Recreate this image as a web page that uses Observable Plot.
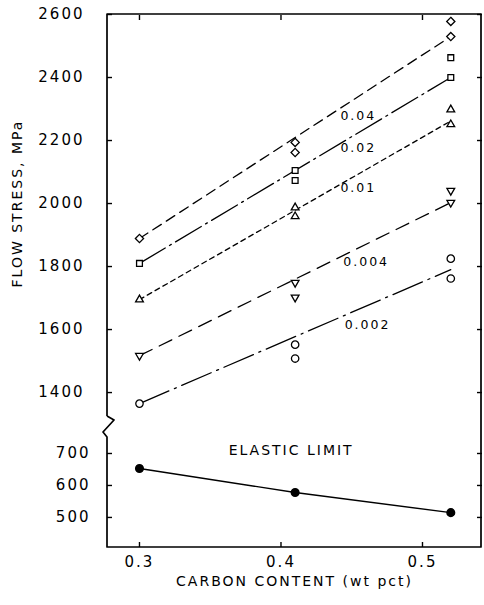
<!DOCTYPE html>
<html><head><meta charset="utf-8">
<script src="https://cdn.jsdelivr.net/npm/d3@7"></script>
<script src="https://cdn.jsdelivr.net/npm/@observablehq/plot@0.6"></script>
<style>
html,body{margin:0;padding:0;background:#fff;}
#chart svg text{letter-spacing:2px;}
#chart g[aria-label="strain labels"] text{letter-spacing:0.6px;}
#chart g[aria-label="axis title"] text{letter-spacing:2.5px;}
#chart g[aria-label="elastic title"] text{letter-spacing:2px;}
</style></head><body><div id="chart"></div>
<script>
// ---- data ----
const carbon = [0.3, 0.41, 0.52];
const strains = ["0.04", "0.02", "0.01", "0.004", "0.002"];
// flow stress (MPa) measured at each carbon content (repeat tests per entry)
const stress_004 = [[1889], [2194, 2162], [2578, 2530]];
const stress_002 = [[1810], [2105, 2073], [2463, 2400]];
const stress_001 = [[1695], [1987, 1959], [2298, 2251]];
const stress_0004 = [[1517], [1749, 1702], [2041, 2003]];
const stress_0002 = [[1365], [1552, 1508], [1825, 1762]];
// fitted lines: stress at 0.3 and 0.52 wt pct C
const fitStart = [1889, 1810, 1695, 1517, 1365];
const fitEnd = [2530, 2400, 2262, 2003, 1790];
// elastic limit (MPa)
const elastic = [653, 578, 515];
// ticks
const yTicksUpper = [1400, 1600, 1800, 2000, 2200, 2400, 2600];
const yTicksLower = [500, 600, 700];
const xTicks = [0.3, 0.4, 0.5];
// annotation anchors (data units)
const labelC = [0.442, 0.442, 0.442, 0.444, 0.445];
const labelS = [2279, 2175, 2048, 1813, 1616];
const elasticLabel = {text: "ELASTIC LIMIT", c: 0.363, s: 709};
const yTitle = "FLOW STRESS, MPa";
const xTitle = "CARBON CONTENT (wt pct)";

// ---- build tables ----
const series = [stress_004, stress_002, stress_001, stress_0004, stress_0002];
const points = [];
series.forEach((arr, i) => arr.forEach((vals, j) => vals.forEach(v =>
  points.push({strain: strains[i], c: carbon[j], s: v}))));
const fits = strains.map((st, i) => [
  {strain: st, c: carbon[0], s: fitStart[i]},
  {strain: st, c: carbon[carbon.length - 1], s: fitEnd[i]}
]);
const elasticPts = carbon.map((c, j) => ({c, s: elastic[j]}));
const labels = strains.map((st, i) => ({text: st, c: labelC[i], s: labelS[i]}));

const dashes = ["10,6", "30,5,2,5", "5,4", "14,8", "32,6,2,6"];
const breakUpper = 1324, breakLower = 750;
const xDomain = [0.2774, 0.5417];

function frameWithBreak(index, scales, values, dim) {
  const {width, height, marginLeft, marginRight, marginTop, marginBottom} = dim;
  const x0 = marginLeft, x1 = width - marginRight, y0 = marginTop, y1 = height - marginBottom;
  const yb1 = scales.y(breakUpper), yb2 = scales.y(breakLower);
  const d = `M${x0},${yb1}L${x0},${y0}L${x1},${y0}L${x1},${y1}L${x0},${y1}L${x0},${yb2}` +
            `L${x0 - 4},${yb2 - 5}L${x0 + 7},${yb1 + 4}L${x0},${yb1}`;
  return d3.create("svg:path").attr("d", d).attr("fill", "none")
    .attr("stroke", "black").attr("stroke-width", 1.7).attr("stroke-linejoin", "round").node();
}

const blank = () => "";
const marks = [
  frameWithBreak,
  // inward ticks
  Plot.axisY([...yTicksLower, ...yTicksUpper], {anchor: "left", tickSize: 5, dx: 5, tickFormat: blank, label: null, strokeWidth: 1.4}),
  Plot.axisY([...yTicksLower, ...yTicksUpper], {anchor: "right", tickSize: 5, dx: -5, tickFormat: blank, label: null, strokeWidth: 1.4}),
  Plot.axisX(xTicks, {anchor: "top", tickSize: 5, dy: 5, tickFormat: blank, label: null, strokeWidth: 1.4}),
  Plot.axisX(xTicks, {anchor: "bottom", tickSize: 5, dy: -5, tickFormat: blank, label: null, strokeWidth: 1.4}),
  // tick labels
  Plot.axisY(yTicksUpper, {anchor: "left", tickSize: 0, tickPadding: 23, label: null, fontSize: 15, tickFormat: d => String(d)}),
  Plot.axisY(yTicksLower, {anchor: "left", tickSize: 0, tickPadding: 17, label: null, fontSize: 15, tickFormat: d => String(d)}),
  Plot.axisX(xTicks, {anchor: "bottom", tickSize: 0, tickPadding: 9, label: null, fontSize: 15, tickFormat: d => d.toFixed(1)}),
  // fitted lines
  ...fits.map((f, i) => Plot.line(f, {x: "c", y: "s", stroke: "black", strokeWidth: 1.3, strokeDasharray: dashes[i]})),
  // elastic limit
  Plot.line(elasticPts, {x: "c", y: "s", stroke: "black", strokeWidth: 1.4}),
  Plot.dot(elasticPts, {x: "c", y: "s", r: 3.8, fill: "black", stroke: "black"}),
  // measured points
  Plot.dot(points, {x: "c", y: "s", symbol: "strain", r: 3.7, fill: "white", stroke: "black", strokeWidth: 1.3,
    rotate: d => d.strain === "0.004" ? 180 : 0}),
  // annotations
  Plot.text(labels, {x: "c", y: "s", text: "text", textAnchor: "start", fontSize: 12.5, ariaLabel: "strain labels"}),
  Plot.text([elasticLabel], {x: "c", y: "s", text: "text", textAnchor: "start", fontSize: 14, ariaLabel: "elastic title"}),
  Plot.text([yTitle], {text: d => d, frameAnchor: "left", textAnchor: "middle", y: () => 2000, dx: -90, rotate: -90, fontSize: 14, ariaLabel: "axis title"}),
  Plot.text([xTitle], {text: d => d, frameAnchor: "bottom", textAnchor: "middle", x: () => (xDomain[0] + xDomain[1]) / 2, dy: 38, fontSize: 14, ariaLabel: "axis title"})
];

const chart = Plot.plot({
  width: 484, height: 605,
  marginLeft: 107, marginRight: 3, marginTop: 14, marginBottom: 58,
  style: {fontFamily: "'DejaVu Sans', sans-serif", fontSize: "15px", color: "black", background: "white", overflow: "visible"},
  x: {domain: xDomain},
  y: {type: "linear", domain: [406, breakLower, breakUpper, 2600], range: [547, 437, 416, 14]},
  symbol: {domain: strains, range: ["diamond2", "square2", "triangle2", "triangle2", "circle"]},
  marks
});
document.getElementById("chart").appendChild(chart);
</script>
</body></html>
